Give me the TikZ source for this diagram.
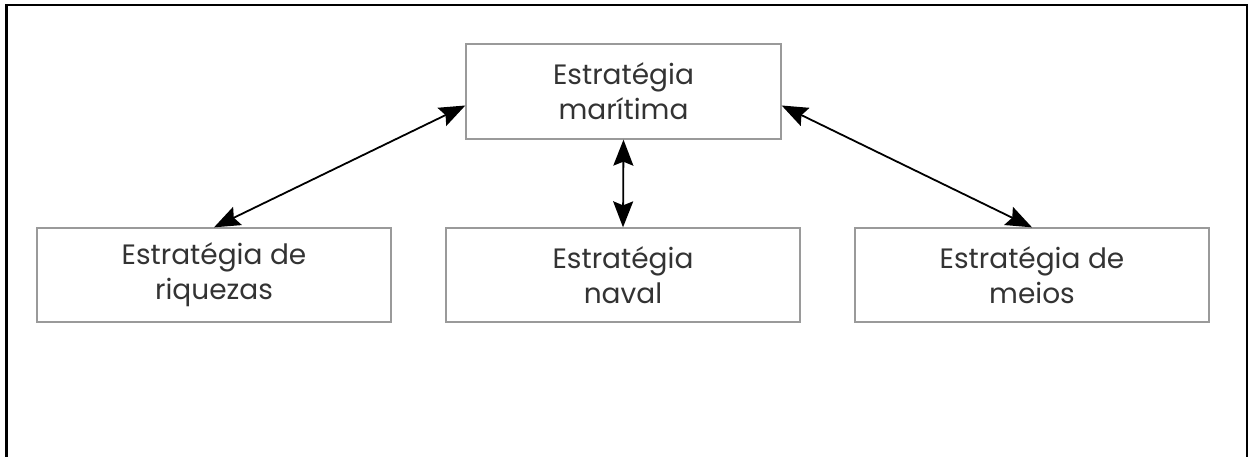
\documentclass[tikz,border=0pt]{standalone}
\usepackage{fontspec}
\setmainfont{Poppins}
\usetikzlibrary{arrows.meta}
\definecolor{boxgray}{HTML}{9A9A9A}
\definecolor{txtgray}{HTML}{333333}
\tikzset{
  box/.style={draw=boxgray, line width=1.3pt, minimum width=354pt, minimum height=94pt,
    align=center, text=txtgray, font=\fontsize{28}{35}\selectfont, inner sep=0pt},
  conn/.style={line width=1.8pt, {Stealth[length=26pt,width=20pt,inset=4pt]}-{Stealth[length=26pt,width=20pt,inset=4pt]}},
  frame/.style={line width=2.5pt}
}
\begin{document}
\begin{tikzpicture}[x=1pt,y=-1pt]
\useasboundingbox (0,0) rectangle (1249,457);
\draw[frame] (6.5,457) -- (6.5,5) -- (1247,5) -- (1247,457);
\node[box, minimum width=315pt, minimum height=95pt] (top) at (623.5,91.5) {Estratégia\\marítima};
\node[box] (left) at (214,275) {Estratégia de\\riquezas};
\node[box] (mid) at (623,275) {Estratégia\\naval};
\node[box] (right) at (1032,275) {Estratégia de\\meios};
\draw[conn] ([yshift=-14pt]top.west) -- (left.north);
\draw[conn] ([yshift=-14pt]top.east) -- (right.north);
\draw[conn] (top.south) -- (mid.north);
\end{tikzpicture}
\end{document}
